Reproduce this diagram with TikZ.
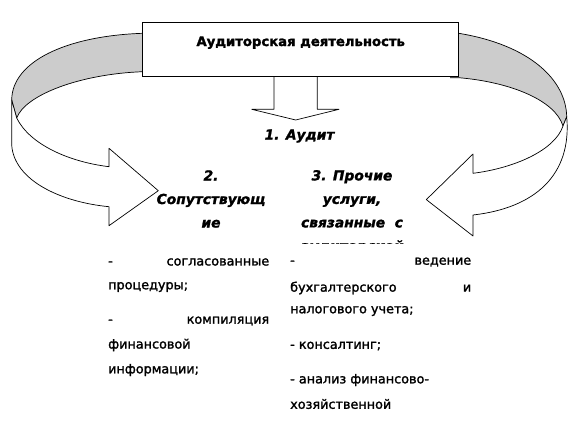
\documentclass[tikz,border=0pt]{standalone}
\usepackage{fontspec}
\setmainfont{DejaVu Sans}
\newfontfamily\listfont{DejaVu Sans}[FakeBold=1.6]
\newfontfamily\headfont{DejaVu Sans}[BoldFeatures={FakeBold=1.8}, BoldItalicFeatures={FakeBold=1.4}]
\usetikzlibrary{calc}

% justified line: left part, gap, right part
\newcommand{\jline}[3]{\hbox to #1pt{#2\hfill #3}}

\begin{document}
\begin{tikzpicture}[x=1pt, y=-1pt,
  band/.style={draw=black, line width=0.7pt, line join=round},
  backband/.style={band, fill=gray!40},
  frontband/.style={band, fill=white},
  headbox/.style={draw, line width=0.8pt, fill=white, minimum width=316pt,
    minimum height=54pt, text depth=16pt, font=\headfont\bfseries\fontsize{13.2}{16}\selectfont},
  coltitle/.style={align=center, inner sep=0pt, font=\headfont\bfseries\itshape\fontsize{13.8}{23.5}\selectfont},
  listtext/.style={anchor=west, inner sep=0pt, font=\listfont\fontsize{12.8}{16}\selectfont}]
  \useasboundingbox (0,0) rectangle (569,422);
  % back side of the curved arrows
  \draw[backband] (150,33.3) -- (142.7,33.3) .. controls (65,36) and (12,62) .. (11.7,100)
    -- (16.7,118) .. controls (25,95) and (80,74) .. (142.7,71.7) -- (150,71.7);
  \draw[backband] (450,33.3) -- (458.7,33.3) .. controls (530,45) and (566,80) .. (566.7,116.7)
    -- (563,126) .. controls (555,100) and (510,82) .. (458.7,77.7) -- (450,77.7);
  % front side, left arrow
  \draw[frontband] (11.7,100) -- (16.7,118) .. controls (30,145) and (70,162) .. (109,166.7)
    -- (109,148.3) -- (158.3,190.7) -- (109,225.7) -- (109,206.7)
    .. controls (60,202) and (14,180) .. (11.7,145) -- cycle;
  % front side, right arrow
  \draw[frontband] (566.7,116.7) -- (563,126) .. controls (555,150) and (515,168) .. (473,173.3)
    -- (473,154) -- (426.3,199.6) -- (473,236) -- (473,215)
    .. controls (535,208) and (572,175) .. cycle;
  % main box
  \node[headbox] (head) at (300.7,49.2) {Аудиторская деятельность};
  % down arrow
  \draw[band] (274,76.2) -- (274,109.3) -- (251.7,109.3) -- (295.7,120)
    -- (339,109.3) -- (317.3,109.3) -- (317.3,76.2);
  % kinds of services
  \node[coltitle] (audit) at (299.5,136) {1. Аудит};
  \node[coltitle] (related) at (211,199) {2.\\Сопутствующ\\ие};
  \begin{scope}
    \clip (300,160) rectangle (420,243);
    \node[coltitle] (other) at (352,212) {3. Прочие\\услуги,\\связанные\ \ с\\аудиторской};
  \end{scope}
  % left list
  \node[listtext] (l1) at (108,262) {\jline{161}{-}{согласованные}};
  \node[listtext] (l2) at (108,287) {процедуры;};
  \node[listtext] (l3) at (108,321) {\jline{161}{-}{компиляция}};
  \node[listtext] (l4) at (108,345) {финансовой};
  \node[listtext] (l5) at (108,370) {информации;};
  % right list
  \node[listtext] (r1) at (290,262) {\jline{181}{-}{ведение}};
  \node[listtext] (r2) at (290,288) {\jline{181}{бухгалтерского}{и}};
  \node[listtext] (r3) at (290,311) {налогового учета;};
  \node[listtext] (r4) at (290,346) {- консалтинг;};
  \node[listtext] (r5) at (290,380) {- анализ финансово-};
  \node[listtext] (r6) at (290,404) {хозяйственной};
\end{tikzpicture}
\end{document}
